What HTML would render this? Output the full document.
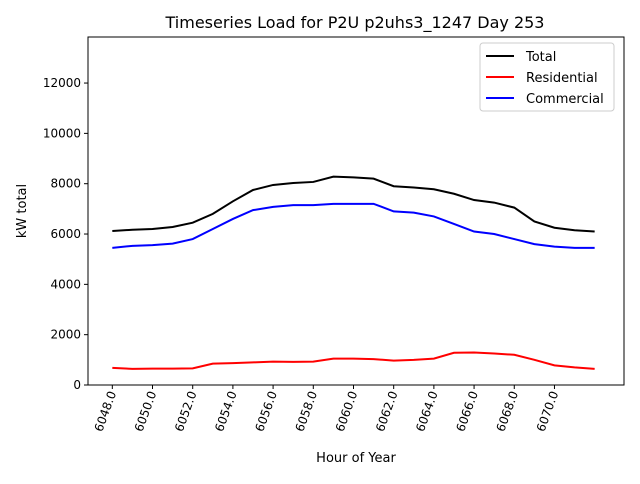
<!DOCTYPE html>
<html><head><meta charset="utf-8"><style>
body{margin:0;background:#fff;font-family:"DejaVu Sans","Liberation Sans",sans-serif}
svg text{font-family:"DejaVu Sans","Liberation Sans",sans-serif;fill:#000}
</style></head><body>
<svg id="chart" width="640" height="480" xmlns="http://www.w3.org/2000/svg">
<rect width="640" height="480" fill="#fff"/>
<text x="355" y="28" font-size="16" text-anchor="middle">Timeseries Load for P2U p2uhs3_1247  Day 253</text>
<text x="356" y="462" font-size="13" text-anchor="middle">Hour of Year</text>
<text transform="translate(26,211) rotate(-90)" font-size="13" text-anchor="middle">kW total</text>
<g id="plot"></g>
</svg>
<script>
const hours=[6048,6049,6050,6051,6052,6053,6054,6055,6056,6057,6058,6059,6060,6061,6062,6063,6064,6065,6066,6067,6068,6069,6070,6071,6072];
const total=[6120,6170,6200,6280,6450,6800,7300,7750,7950,8030,8070,8280,8250,8200,7900,7850,7780,7600,7350,7250,7050,6500,6250,6150,6100];
const residential=[680,640,650,650,660,850,870,900,930,920,930,1050,1050,1030,970,1000,1050,1280,1290,1250,1200,1000,780,700,640];
const commercial=[5450,5530,5560,5620,5800,6200,6600,6950,7080,7150,7150,7200,7200,7200,6900,6850,6700,6400,6100,6000,5800,5600,5500,5450,5450];
const yTicks=[0,2000,4000,6000,8000,10000,12000];
const xTicks=[6048,6050,6052,6054,6056,6058,6060,6062,6064,6066,6068,6070];
const L=88,R=624,T=37,B=385,xmin=6046.79,xmax=6073.46,ymin=0,ymax=13830;
const sx=v=>L+(v-xmin)/(xmax-xmin)*(R-L);
const sy=v=>B-(v-ymin)/(ymax-ymin)*(B-T);
const NS="http://www.w3.org/2000/svg";
const g=document.getElementById('plot');
function mk(t,a){const e=document.createElementNS(NS,t);for(const k in a)e.setAttribute(k,a[k]);g.appendChild(e);return e;}
yTicks.forEach(v=>{
 const l=mk('line',{x1:L-4,x2:L,y1:sy(v),y2:sy(v),stroke:'#000'});
 
 
 const t=mk('text',{x:L-7,y:sy(v)+4,'font-size':12,'text-anchor':'end'});t.textContent=v;
 
 
});
xTicks.forEach(v=>{
 const l=mk('line',{x1:sx(v),x2:sx(v),y1:B,y2:B+4,stroke:'#000'});
 
 
 const t=mk('text',{transform:`translate(${sx(v)+4},${B+8}) rotate(-70)`,'font-size':12,'text-anchor':'end'});t.textContent=v.toFixed(1);
 
 
});
function line(vals,color,name){
 const p=mk('polyline',{points:hours.map((h,i)=>sx(h)+','+sy(vals[i])).join(' '),fill:'none',stroke:color,'stroke-width':2});
 
 
}
line(total,'#000','total-line');
line(residential,'#f00','residential-line');
line(commercial,'#00f','commercial-line');
const fr=mk('rect',{x:L,y:T,width:R-L,height:B-T,fill:'none',stroke:'#000','stroke-width':1});


const lg=mk('rect',{x:480,y:43,width:134,height:68,fill:'#fff',stroke:'#ccc',rx:3});


[['Total','#000'],['Residential','#f00'],['Commercial','#00f']].forEach((e,i)=>{
 const y=56+i*21;
 const l=mk('line',{x1:486,x2:514,y1:y,y2:y,stroke:e[1],'stroke-width':2});
 
 
 const t=mk('text',{x:526,y:y+5,'font-size':13});t.textContent=e[0];
 
 
});
</script>
</body></html>
